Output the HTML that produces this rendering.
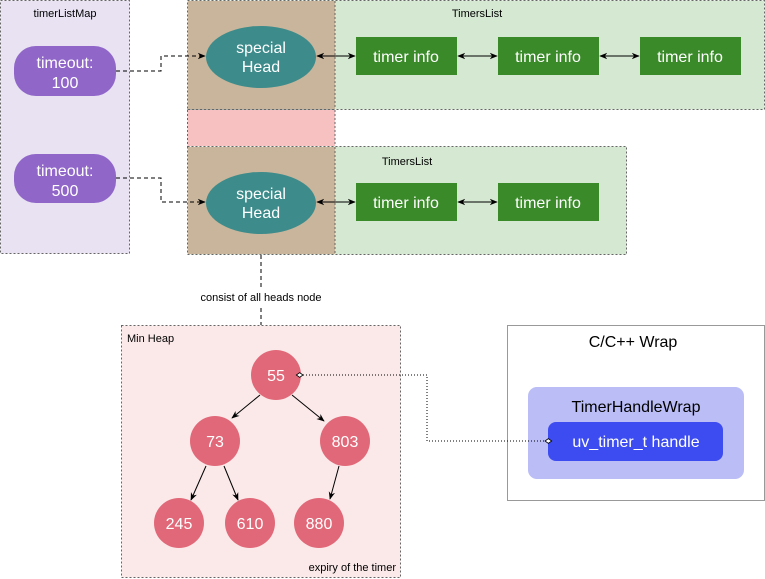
<!DOCTYPE html>
<html><head><meta charset="utf-8"><style>
html,body{margin:0;padding:0;background:#fff;}
svg{display:block;font-family:"Liberation Sans",Arial,sans-serif;}
</style></head><body>
<svg width="765" height="579" viewBox="0 0 765 579" xmlns="http://www.w3.org/2000/svg">
<defs>
<marker id="a" viewBox="0 0 10 10" refX="9" refY="5" markerWidth="8" markerHeight="8" orient="auto-start-reverse"><path d="M0,1 L10,5 L0,9 L3,5 z" fill="#000"/></marker>
<marker id="d" viewBox="0 0 12 12" refX="1" refY="6" markerWidth="8" markerHeight="8" orient="auto-start-reverse"><path d="M1,6 L6,2.5 L11,6 L6,9.5 z" fill="#fff" stroke="#000" stroke-width="1.2"/></marker>
</defs>
<rect x="0.5" y="0.5" width="129" height="253" fill="#e8e2f3" stroke="#666" stroke-dasharray="2 2"/>
<text x="65" y="17" font-size="11" text-anchor="middle">timerListMap</text>
<rect x="14" y="46" width="102" height="50" rx="22" fill="#9066c9"/>
<text x="65" y="68" font-size="16" fill="#fff" text-anchor="middle">timeout:</text>
<text x="65" y="88" font-size="16" fill="#fff" text-anchor="middle">100</text>
<rect x="14" y="154" width="102" height="49" rx="22" fill="#9066c9"/>
<text x="65" y="176" font-size="16" fill="#fff" text-anchor="middle">timeout:</text>
<text x="65" y="196" font-size="16" fill="#fff" text-anchor="middle">500</text>
<rect x="187.5" y="0.5" width="577" height="109" fill="#d5e8d2" stroke="#666" stroke-dasharray="2 2"/>
<rect x="188" y="1" width="147" height="108" fill="#c8b59b"/>
<line x1="335" y1="1" x2="335" y2="109" stroke="#666" stroke-dasharray="2 2"/>
<rect x="187.5" y="110" width="147.5" height="36" fill="#f7c1c1"/>
<line x1="187.5" y1="110" x2="187.5" y2="146" stroke="#666" stroke-dasharray="2 2"/>
<line x1="335" y1="110" x2="335" y2="146" stroke="#666" stroke-dasharray="2 2"/>
<text x="477" y="17" font-size="11" text-anchor="middle">TimersList</text>
<rect x="187.5" y="146.5" width="439" height="108" fill="#d5e8d2" stroke="#666" stroke-dasharray="2 2"/>
<rect x="188" y="147" width="147" height="107" fill="#c8b59b"/>
<line x1="335" y1="147" x2="335" y2="254" stroke="#666" stroke-dasharray="2 2"/>
<line x1="187.5" y1="109.5" x2="335" y2="109.5" stroke="#666" stroke-dasharray="2 2"/>
<text x="407" y="165" font-size="11" text-anchor="middle">TimersList</text>
<ellipse cx="261" cy="57" rx="55" ry="31" fill="#3d8b8b"/>
<text x="261" y="53" font-size="16" fill="#fff" text-anchor="middle">special</text>
<text x="261" y="72" font-size="16" fill="#fff" text-anchor="middle">Head</text>
<ellipse cx="261" cy="203" rx="55" ry="31" fill="#3d8b8b"/>
<text x="261" y="199" font-size="16" fill="#fff" text-anchor="middle">special</text>
<text x="261" y="218" font-size="16" fill="#fff" text-anchor="middle">Head</text>
<g fill="#3a8a29">
<rect x="356" y="37" width="101" height="38"/><rect x="498" y="37" width="101" height="38"/><rect x="640" y="37" width="101" height="38"/>
<rect x="356" y="183" width="101" height="38"/><rect x="498" y="183" width="101" height="38"/>
</g>
<g font-size="16" fill="#fff" text-anchor="middle">
<text x="406" y="62">timer info</text><text x="548" y="62">timer info</text><text x="690" y="62">timer info</text>
<text x="406" y="208">timer info</text><text x="548" y="208">timer info</text>
</g>
<g stroke="#000" stroke-width="1" marker-start="url(#a)" marker-end="url(#a)">
<line x1="317" y1="56" x2="355" y2="56"/><line x1="458" y1="56" x2="497" y2="56"/><line x1="600" y1="56" x2="639" y2="56"/>
<line x1="317" y1="202" x2="355" y2="202"/><line x1="458" y1="202" x2="497" y2="202"/>
</g>
<g fill="none" stroke="#000" stroke-dasharray="4 3" marker-end="url(#a)">
<path d="M116,71 H161 V56 H205"/>
<path d="M116,178 H161 V202 H205"/>
</g>
<line x1="261" y1="255" x2="261" y2="288" stroke="#000" stroke-dasharray="4 3"/>
<text x="261" y="301" font-size="11" text-anchor="middle">consist of all heads node</text>
<line x1="261" y1="308" x2="261" y2="325" stroke="#000" stroke-dasharray="4 3"/>
<rect x="121.5" y="325.5" width="279" height="252" fill="#fbe9e9" stroke="#666" stroke-dasharray="2 2"/>
<text x="127" y="342" font-size="11">Min Heap</text>
<text x="396" y="571" font-size="11" text-anchor="end">expiry of the timer</text>
<g stroke="#000" marker-end="url(#a)">
<line x1="260" y1="395" x2="232" y2="418"/>
<line x1="292" y1="395" x2="324" y2="421"/>
<line x1="206" y1="466" x2="191" y2="500"/>
<line x1="224" y1="466" x2="238" y2="500"/>
<line x1="339" y1="466" x2="330" y2="499"/>
</g>
<g fill="#e16878">
<circle cx="276" cy="375" r="25"/>
<circle cx="215" cy="441" r="25"/>
<circle cx="345" cy="441" r="25"/>
<circle cx="179" cy="523" r="25"/>
<circle cx="250" cy="523" r="25"/>
<circle cx="319" cy="523" r="25"/>
</g>
<g font-size="16" fill="#fff" text-anchor="middle">
<text x="276" y="381">55</text><text x="215" y="447">73</text><text x="345" y="447">803</text>
<text x="179" y="529">245</text><text x="250" y="529">610</text><text x="319" y="529">880</text>
</g>
<rect x="507.5" y="325.5" width="257" height="175" fill="#fff" stroke="#999"/>
<text x="633" y="347" font-size="16" text-anchor="middle">C/C++ Wrap</text>
<rect x="528" y="387" width="216" height="92" rx="9" fill="#babdf6"/>
<text x="636" y="412" font-size="16" text-anchor="middle">TimerHandleWrap</text>
<rect x="548" y="422" width="175" height="39" rx="8" fill="#3d4cf0"/>
<text x="636" y="447" font-size="16" fill="#fff" text-anchor="middle">uv_timer_t handle</text>
<path d="M303,375 H427 V441 H545" fill="none" stroke="#000" stroke-dasharray="1 2" marker-start="url(#d)" marker-end="url(#d)"/>
</svg>
</body></html>
